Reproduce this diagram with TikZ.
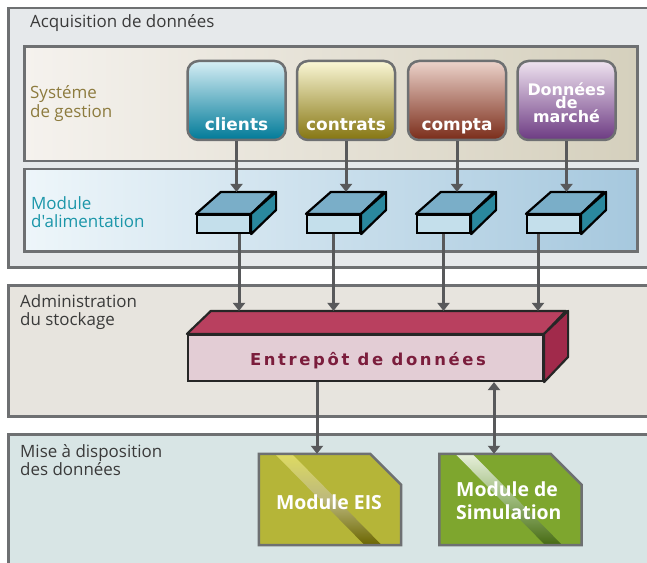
\documentclass[tikz,border=0pt]{standalone}
\usepackage{fontspec}
\setmainfont{Open Sans}[Ligatures=TeXOff]
\newfontfamily\boxfont{DejaVu Sans}
\newfontfamily\wfont[LetterSpace=16]{DejaVu Sans}
\usetikzlibrary{arrows.meta}
\definecolor{acqfill}{HTML}{E6E9EB}
\definecolor{framecol}{HTML}{6E7072}
\definecolor{gesL}{HTML}{F5F2EE}
\definecolor{gesR}{HTML}{D5D0BD}
\definecolor{alimL}{HTML}{EEF6FA}
\definecolor{alimR}{HTML}{A6C8DE}
\definecolor{admfill}{HTML}{E7E4DE}
\definecolor{misefill}{HTML}{D8E5E5}
\definecolor{gestext}{HTML}{8D7B3E}
\definecolor{alimtext}{HTML}{1B96A9}
\definecolor{darktext}{HTML}{3A3A3A}
\definecolor{cliT}{HTML}{D6EEF5}\definecolor{cliB}{HTML}{007A98}
\definecolor{conT}{HTML}{FAF7D6}\definecolor{conB}{HTML}{857510}
\definecolor{comT}{HTML}{ECD3CB}\definecolor{comB}{HTML}{7A2C19}
\definecolor{marT}{HTML}{EFE3F0}\definecolor{marB}{HTML}{6C3A82}
\definecolor{modtop}{HTML}{7AAEC8}
\definecolor{modfront}{HTML}{C4DFEB}
\definecolor{modside}{HTML}{2A889E}
\definecolor{wtop}{HTML}{B9405F}
\definecolor{wfront}{HTML}{E3CDD5}
\definecolor{wside}{HTML}{A12A4B}
\definecolor{wtext}{HTML}{7B1D3C}
\definecolor{eiscol}{HTML}{B5B538}
\definecolor{simcol}{HTML}{7EA62E}
\definecolor{conncol}{HTML}{58595B}
\begin{document}
\begin{tikzpicture}[x=1bp,y=-1bp,
  framebox/.style={draw=framecol, line width=2.5bp, inner sep=0pt, anchor=north west},
  srcbox/.style={draw=framecol, line width=2.5bp, rounded corners=11bp, minimum width=98bp, minimum height=79bp, inner sep=0pt},
  srclbl/.style={text=white, font=\boxfont\bfseries\fontsize{17}{14}\selectfont, inner sep=0pt, anchor=base},
  seclbl/.style={font=\fontsize{17}{18.5}\selectfont, inner sep=0pt, anchor=base west},
  modfrontst/.style={draw=black, fill=modfront, line width=2.2bp, minimum width=53bp, minimum height=18bp, inner sep=0pt},
  modface/.style={draw=black, line width=2.2bp, line join=round},
  wface/.style={draw=black!85, line width=2.2bp, line join=round},
  conn/.style={draw=conncol, line width=3bp},
  tip/.style={-{Triangle[width=12bp,length=8bp]}},
  tips/.style={{Triangle[width=12bp,length=8bp]}-{Triangle[width=12bp,length=8bp]}},
  outbox/.style={minimum width=142bp, minimum height=91bp, inner sep=0pt},
  outlbl/.style={text=white, font=\bfseries\fontsize{19.5}{24}\selectfont, inner sep=0pt}
]
\clip (0,0) rectangle (647,563);
\fill[white] (0,0) rectangle (647,563);

% section frames
\node[framebox, fill=acqfill, minimum width=653bp, minimum height=259bp] (acq) at (7,7) {};
\node[framebox, left color=gesL, right color=gesR, minimum width=613bp, minimum height=114bp] (ges) at (23,45.5) {};
\node[framebox, left color=alimL, right color=alimR, minimum width=613bp, minimum height=82bp] (alim) at (23,168) {};
\node[framebox, fill=admfill, minimum width=653bp, minimum height=131bp] (adm) at (7,284) {};
\node[framebox, fill=misefill, minimum width=653bp, minimum height=150bp] (mise) at (7,433) {};

% section labels
\node[seclbl, text=darktext] (acqL) at (30,28) {Acquisition de données};
\node[seclbl, text=gestext] (gesL) at (30,99) {\vtop{\hbox{Systéme}\hbox{de gestion}}};
\node[seclbl, text=alimtext] (alimL) at (31,209) {\vtop{\hbox{Module}\hbox{d'alimentation}}};
\node[seclbl, text=darktext] (admL) at (20,307) {\vtop{\hbox{Administration}\hbox{du stockage}}};
\node[seclbl, text=darktext] (miseL) at (20,457) {\vtop{\hbox{Mise à disposition}\hbox{des données}}};

% source systems
\node[srcbox, top color=cliT, bottom color=cliB] (cli) at (236.5,100.5) {};
\node[srcbox, top color=conT, bottom color=conB] (con) at (346,100.5) {};
\node[srcbox, top color=comT, bottom color=comB] (com) at (457,100.5) {};
\node[srcbox, top color=marT, bottom color=marB] (mar) at (566.5,100.5) {};
\node[srclbl] (cliL) at (236.5,131) {clients};
\node[srclbl] (conL) at (346,131) {contrats};
\node[srclbl] (comL) at (457,131) {compta};
\node[srclbl, font=\boxfont\bfseries\fontsize{16}{13.5}\selectfont] (marL) at (566.5,95.5) {\vtop{\hbox to 96bp{\hss Données\hss}\hbox to 96bp{\hss de\hss}\hbox to 96bp{\hss marché\hss}}};

% feeding modules (3D blocks)
\foreach \i in {1,2,3,4}{
  \node[modfrontst] (m\i) at ({223.5+110*(\i-1)},224) {};
  \coordinate (m\i bk) at ([xshift=25bp,yshift=22bp]m\i.north west);
  \filldraw[modface, fill=modtop] (m\i.north west) -- ++(25,-22) -- ++(53,0) -- (m\i.north east) -- cycle;
  \filldraw[modface, fill=modside] (m\i.north east) -- ++(25,-22) -- ++(0,18) -- (m\i.south east) -- cycle;
}

% data warehouse (3D block)
\node[draw=black!85, fill=wfront, line width=2.2bp, minimum width=355bp, minimum height=46bp, inner sep=0pt] (wf) at (365.5,358) {};
\coordinate (wbk) at ([xshift=24bp,yshift=23bp]wf.north west);
\filldraw[wface, fill=wtop] (wf.north west) -- ++(24,-23) -- ++(355,0) -- (wf.north east) -- cycle;
\filldraw[wface, fill=wside] (wf.north east) -- ++(24,-23) -- ++(0,46) -- (wf.south east) -- cycle;
\node[text=wtext, font=\wfont\bfseries\fontsize{16.5}{18}\selectfont, inner sep=0pt, anchor=base] (wL) at (368,365) {Entrepôt de données};

% output modules
\node[outbox] (eis) at (330,499.5) {};
\node[outbox] (sim) at (510.5,499.5) {};
\foreach \n/\c/\sa/\sb/\sc in {eis/eiscol/DEDB62/BCB87C/6A6500, sim/simcol/E8F0DC/9AB878/466A12}{
  \definecolor{stA}{HTML}{\sa}\definecolor{stB}{HTML}{\sb}\definecolor{stC}{HTML}{\sc}
  \fill[\c] (\n.north west) -- ([xshift=-31bp]\n.north east) -- ([yshift=-31bp]\n.north east) -- (\n.south east) -- (\n.south west) -- cycle;
  \begin{scope}
    \clip (\n.north west) -- ([xshift=-31bp]\n.north east) -- ([yshift=-31bp]\n.north east) -- (\n.south east) -- (\n.south west) -- cycle;
    \shade[top color=stA, bottom color=stC, middle color=stB] ([xshift=16bp]\n.north west) -- ([xshift=33bp]\n.north west) -- ([xshift=123bp]\n.south west) -- ([xshift=106bp]\n.south west) -- cycle;
  \end{scope}
  \draw[draw=framecol, line width=2.5bp, line join=miter] (\n.north west) -- ([xshift=-31bp]\n.north east) -- ([yshift=-31bp]\n.north east) -- (\n.south east) -- (\n.south west) -- cycle;
}
\node[outlbl, anchor=base] (eisL) at (329,509) {Module EIS};
\node[outlbl, anchor=base west] (simL) at (456,496) {\vtop{\hbox{Module de}\hbox{Simulation}}};

% connectors
\draw[conn, tip] (cli.south) -- (cli.south |- m1bk);
\draw[conn, tip] (con.south) -- (con.south |- m2bk);
\draw[conn, tip] (com.south) -- (com.south |- m3bk);
\draw[conn, tip] (mar.south) -- (mar.south |- m4bk);
\draw[conn, tip] ([xshift=15.5bp]m1.south) -- ([xshift=15.5bp]m1.south |- wbk);
\draw[conn, tip] (m2.south) -- (m2.south |- wbk);
\draw[conn, tip] (m3.south) -- (m3.south |- wbk);
\draw[conn, tip] ([xshift=-15.5bp]m4.south) -- ([xshift=-15.5bp]m4.south |- wbk);
\draw[conn, tip] ([xshift=-48.5bp]wf.south) -- ([xshift=-48.5bp]wf.south |- eis.north);
\draw[conn, tips] ([xshift=128.5bp]wf.south) -- ([xshift=128.5bp]wf.south |- sim.north);
\end{tikzpicture}
\end{document}
